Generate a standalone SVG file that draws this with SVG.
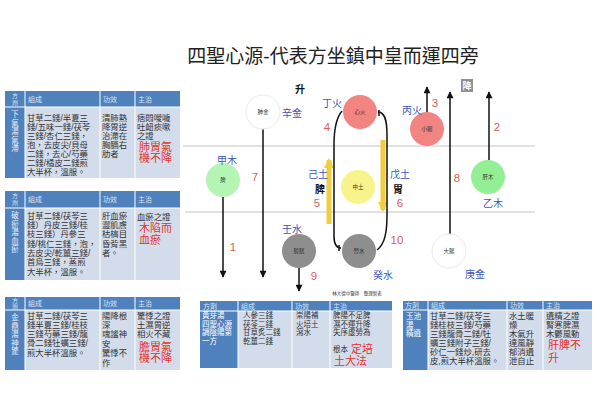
<svg xmlns="http://www.w3.org/2000/svg" width="600" height="400" viewBox="0 0 600 400">
<style>
text{font-family:"Liberation Sans","Noto Sans CJK TC","Noto Sans CJK SC",sans-serif}
.hd{fill:#4f81bd}
.bd{fill:#d3dcea}
.sep{stroke:#fff;stroke-width:1}
.ht{font-size:7px;fill:#d8e3f3}
.hv{font-size:6px;fill:#d8e3f3;text-anchor:middle}
.ct{font-size:8.4px;fill:#333}
.cs{font-size:7.5px;fill:#333}
.wt{font-size:7.5px;fill:#fff}
.wv{font-size:7.5px;fill:#e8eef8;text-anchor:middle}
.r{font-size:11px;fill:#e8322e}
.bl{font-size:10px;fill:#3a56c0;text-anchor:middle}
.num{font-size:11.5px;fill:#e05a5a;text-anchor:middle}
.bk{font-size:10px;font-weight:bold;fill:#111;text-anchor:middle}
.nl{font-size:5.5px;fill:#333;text-anchor:middle}
.ar{stroke:#111;stroke-width:1.5;fill:none}
.ya{stroke:#f3cd3c;stroke-width:5;fill:none}
.gl{stroke:#c4c4c4;stroke-width:1}
</style>
<defs>
<marker id="ah" viewBox="0 0 10 10" refX="9" refY="5" markerWidth="8" markerHeight="7" orient="auto" markerUnits="userSpaceOnUse"><path d="M0,0 L10,5 L0,10 z" fill="#111"/></marker>
<marker id="ya" viewBox="0 0 10 10" refX="8" refY="5" markerWidth="10" markerHeight="11" orient="auto" markerUnits="userSpaceOnUse"><path d="M0,0 L10,5 L0,10 z" fill="#f3cd3c"/></marker>
</defs>
<rect width="600" height="400" fill="#fff"/>
<text x="333" y="63" font-size="19" fill="#222" text-anchor="middle">四聖心源-代表方坐鎮中皇而運四旁</text>
<text x="300" y="93" class="bk" font-size="9">升</text>
<rect x="461" y="79" width="12" height="13" fill="#8f8f8f"/>
<text x="467" y="89" font-size="9" font-weight="bold" fill="#fff" text-anchor="middle">降</text>
<line class="gl" x1="183" y1="146" x2="535" y2="146"/>
<line class="gl" x1="185" y1="212" x2="535" y2="212"/>

<g id="table1">
<rect class="bd" x="5" y="91" width="175" height="87"/>
<rect class="hd" x="5" y="91" width="175" height="16"/>
<rect class="hd" x="5" y="107" width="20" height="71"/>
<line class="sep" x1="25" y1="91" x2="25" y2="178"/><line class="sep" x1="100" y1="91" x2="100" y2="178"/><line class="sep" x1="135" y1="91" x2="135" y2="178"/><line class="sep" x1="5" y1="107" x2="180" y2="107"/>
<text class="hv"><tspan x="15" y="98">方</tspan><tspan x="15" y="105">劑</tspan></text>
<text class="ht" x="28" y="102">組成</text><text class="ht" x="103" y="102">功效</text><text class="ht" x="138" y="102">主治</text>
<text class="wv"><tspan x="15" y="117">下</tspan><tspan x="15" y="125.5">氣</tspan><tspan x="15" y="134">湯</tspan><tspan x="15" y="142.5">氣</tspan><tspan x="15" y="151">滯</tspan></text>
<text class="ct"><tspan x="27" y="121">甘草二錢/半夏三</tspan><tspan x="27" y="130">錢/五味一錢/茯苓</tspan><tspan x="27" y="139">三錢/杏仁三錢，</tspan><tspan x="27" y="148">泡，去皮尖/貝母</tspan><tspan x="27" y="157">二錢，去心/芍藥</tspan><tspan x="27" y="166">二錢/橘皮二錢煎</tspan><tspan x="27" y="175">大半杯，溫服。</tspan></text>
<text class="ct"><tspan x="102" y="121">清肺熱</tspan><tspan x="102" y="130">降胃逆</tspan><tspan x="102" y="139">治滯在</tspan><tspan x="102" y="148">胸膈右</tspan><tspan x="102" y="157">肋者</tspan></text>
<text class="ct"><tspan x="137" y="121">痞悶噯噦</tspan><tspan x="137" y="130">吐衄痰嗽</tspan><tspan x="137" y="139">之證</tspan><tspan class="r" x="139" y="151">肺胃氣</tspan><tspan class="r" x="139" y="162">機不降</tspan></text>
</g>

<g id="table2">
<rect class="bd" x="5" y="191" width="175" height="89"/>
<rect class="hd" x="5" y="191" width="175" height="17"/>
<rect class="hd" x="5" y="208" width="20" height="72"/>
<line class="sep" x1="25" y1="191" x2="25" y2="280"/><line class="sep" x1="100" y1="191" x2="100" y2="280"/><line class="sep" x1="135" y1="191" x2="135" y2="280"/><line class="sep" x1="5" y1="208" x2="180" y2="208"/>
<text class="hv"><tspan x="15" y="198">方</tspan><tspan x="15" y="205">劑</tspan></text>
<text class="ht" x="28" y="202">組成</text><text class="ht" x="103" y="202">功效</text><text class="ht" x="138" y="202">主治</text>
<text class="wv"><tspan x="15" y="218">破</tspan><tspan x="15" y="226.5">瘀</tspan><tspan x="15" y="235">湯</tspan><tspan x="15" y="243.5">血</tspan><tspan x="15" y="252">瘀</tspan></text>
<text class="ct"><tspan x="27" y="219">甘草二錢/茯苓三</tspan><tspan x="27" y="228">錢）丹皮三錢/桂</tspan><tspan x="27" y="237">枝三錢）丹參三</tspan><tspan x="27" y="246.5">錢/桃仁三錢，泡，</tspan><tspan x="27" y="256">去皮尖/乾薑三錢/</tspan><tspan x="27" y="265">首烏三錢，蒸煎</tspan><tspan x="27" y="274.5">大半杯，溫服。</tspan></text>
<text class="ct"><tspan x="102" y="219">肝血瘀</tspan><tspan x="102" y="228">澀肌膚</tspan><tspan x="102" y="237">枯槁目</tspan><tspan x="102" y="246.5">昏背黑</tspan><tspan x="102" y="256">者。</tspan></text>
<text class="ct"><tspan x="137" y="220">血瘀之證</tspan><tspan class="r" x="139" y="232">木陷而</tspan><tspan class="r" x="139" y="244">血瘀</tspan></text>
</g>

<g id="table3">
<rect class="bd" x="5" y="297" width="175" height="73"/>
<rect class="hd" x="5" y="297" width="175" height="13"/>
<rect class="hd" x="5" y="310" width="20" height="60"/>
<line class="sep" x1="25" y1="297" x2="25" y2="370"/><line class="sep" x1="100" y1="297" x2="100" y2="370"/><line class="sep" x1="135" y1="297" x2="135" y2="370"/><line class="sep" x1="5" y1="310" x2="180" y2="310"/>
<text class="hv"><tspan x="15" y="302.5">方</tspan><tspan x="15" y="309">劑</tspan></text>
<text class="ht" x="28" y="306">組成</text><text class="ht" x="103" y="306">功效</text><text class="ht" x="138" y="306">主治</text>
<text class="wv"><tspan x="15" y="320">金</tspan><tspan x="15" y="328.5">鼎</tspan><tspan x="15" y="337">湯</tspan><tspan x="15" y="345.5">神</tspan><tspan x="15" y="354">驚</tspan></text>
<text class="ct"><tspan x="27" y="319">甘草二錢/茯苓三</tspan><tspan x="27" y="328">錢半夏三錢/桂枝</tspan><tspan x="27" y="337">三錢芍藥三錢/龍</tspan><tspan x="27" y="346">骨二錢牡蠣三錢/</tspan><tspan x="27" y="356">煎大半杯溫服。</tspan></text>
<text class="ct"><tspan x="102" y="319">陽降根</tspan><tspan x="102" y="328">深</tspan><tspan x="102" y="337">魂謐神</tspan><tspan x="102" y="347">安</tspan><tspan x="102" y="356">驚悸不</tspan><tspan x="102" y="366">作</tspan></text>
<text class="ct"><tspan x="137" y="319">驚悸之證</tspan><tspan x="137" y="328">土濕胃逆</tspan><tspan x="137" y="337">相火不藏</tspan><tspan class="r" x="139" y="351">膽胃氣</tspan><tspan class="r" x="139" y="362">機不降</tspan></text>
</g>

<g id="table4">
<rect class="bd" x="200" y="301" width="192" height="67"/>
<rect class="hd" x="200" y="301" width="192" height="10"/>
<rect class="hd" x="200" y="311" width="38" height="57"/>
<line class="sep" x1="238" y1="301" x2="238" y2="368"/><line class="sep" x1="292" y1="301" x2="292" y2="368"/><line class="sep" x1="330" y1="301" x2="330" y2="368"/><line class="sep" x1="200" y1="311" x2="392" y2="311"/>
<text class="ht" x="203" y="309">方劑</text><text class="ht" x="241" y="309">組成</text><text class="ht" x="295" y="309">功效</text><text class="ht" x="333" y="309">主治</text>
<text class="wt"><tspan x="202" y="318">黃芽湯</tspan><tspan x="202" y="326.5">四聖心源</tspan><tspan x="202" y="335">調陰陽第</tspan><tspan x="202" y="343.5">一方</tspan></text>
<text class="cs"><tspan x="243" y="318">人參三錢</tspan><tspan x="243" y="326.5">茯苓二錢</tspan><tspan x="243" y="335">甘草炙二錢</tspan><tspan x="243" y="343.5">乾薑二錢</tspan></text>
<text class="cs"><tspan x="296" y="318">崇陽補</tspan><tspan x="296" y="326.5">火培土</tspan><tspan x="296" y="335">瀉水</tspan></text>
<text class="cs"><tspan x="333" y="318">脾陽不足脾</tspan><tspan x="333" y="326.5">濕不運升降</tspan><tspan x="333" y="335">失序虛勞為</tspan><tspan x="333" y="352">根本</tspan><tspan class="r" font-size="11.5" x="351" y="353">定培</tspan><tspan class="r" font-size="11.5" x="334" y="365">土大法</tspan></text>
</g>

<g id="table5">
<rect class="bd" x="403" y="301" width="189" height="69"/>
<rect class="hd" x="403" y="301" width="189" height="9"/>
<rect class="hd" x="403" y="310" width="25" height="60"/>
<line class="sep" x1="428" y1="301" x2="428" y2="370"/><line class="sep" x1="507" y1="301" x2="507" y2="370"/><line class="sep" x1="543" y1="301" x2="543" y2="370"/><line class="sep" x1="403" y1="310" x2="592" y2="310"/>
<text class="ht" x="405" y="308">方劑</text><text class="ht" x="431" y="308">組成</text><text class="ht" x="510" y="308">功效</text><text class="ht" x="546" y="308">主治</text>
<text class="wt"><tspan x="406" y="319">玉池</tspan><tspan x="406" y="327.5">湯</tspan><tspan x="406" y="336">精遺</tspan></text>
<text class="ct"><tspan x="430" y="319">甘草二錢/茯苓三</tspan><tspan x="430" y="327.5">錢桂枝三錢/芍藥</tspan><tspan x="430" y="336.5">三錢龍骨二錢/牡</tspan><tspan x="430" y="345.5">蠣三錢附子三錢/</tspan><tspan x="430" y="354.5">砂仁一錢炒,研去</tspan><tspan x="430" y="364">皮,煎大半杯溫服。</tspan></text>
<text class="ct"><tspan x="509" y="319">水土暖</tspan><tspan x="509" y="327.5">燥</tspan><tspan x="509" y="336.5">木氣升</tspan><tspan x="509" y="345.5">達風靜</tspan><tspan x="509" y="354.5">郁消遺</tspan><tspan x="509" y="364">泄自止</tspan></text>
<text class="ct"><tspan x="546" y="319">遺精之證</tspan><tspan x="546" y="327.5">腎寒脾濕</tspan><tspan x="546" y="336.5">木鬱風動</tspan><tspan class="r" x="548" y="349">肝脾不</tspan><tspan class="r" x="548" y="362">升</tspan></text>
</g>

<g id="connectors">
<line class="ar" x1="223" y1="197" x2="223" y2="277" marker-end="url(#ah)"/>
<line class="ar" x1="263" y1="129" x2="263" y2="277" marker-end="url(#ah)"/>
<line class="ar" x1="299" y1="268" x2="299" y2="291" marker-end="url(#ah)"/>
<line class="ar" x1="427" y1="112" x2="427" y2="87" marker-end="url(#ah)"/>
<line class="ar" x1="450" y1="234" x2="450" y2="92" marker-end="url(#ah)"/>
<line class="ar" x1="489" y1="160" x2="489" y2="92" marker-end="url(#ah)"/>
<line class="ya" x1="329" y1="224" x2="329" y2="160" marker-end="url(#ya)"/>
<line class="ya" x1="383" y1="140" x2="383" y2="210" marker-end="url(#ya)"/>
<path class="ar" d="M342,111 C336,118 334,128 334,145 L334,236 C334,244 336,248 341,248"/>
<line class="ar" x1="339" y1="245" x2="339" y2="251"/>
<path class="ar" d="M377,250 C385,244 387,232 387,215 L387,135 C387,118 384,112 378,112"/>
<line class="ar" x1="379" y1="110" x2="379" y2="116"/>
</g>

<g id="n-feijin"><circle cx="263" cy="112" r="17" fill="#fff" stroke="#e8e8e8"/><text class="nl" x="263" y="114">肺金</text></g>
<g id="n-xinhuo"><circle cx="360" cy="112" r="17" fill="#f28482"/><text class="nl" x="360" y="114">心火</text></g>
<g id="n-xiaochang"><circle cx="427" cy="129" r="17" fill="#f28482"/><text class="nl" x="427" y="131">小腸</text></g>
<g id="n-ganmu"><circle cx="488" cy="177" r="17" fill="#93ef93"/><text class="nl" x="488" y="179">肝木</text></g>
<g id="n-pi"><circle cx="223" cy="180" r="17" fill="#b4f5b4"/><text class="nl" x="223" y="182">脾</text></g>
<g id="n-zhongtu"><circle cx="358" cy="187" r="17" fill="#f8f38a"/><text class="nl" x="358" y="189">中土</text></g>
<g id="n-pangguang"><circle cx="299" cy="251" r="17" fill="#8e8e8e"/><text class="nl" x="299" y="253">膀胱</text></g>
<g id="n-shenshui"><circle cx="359" cy="251" r="17" fill="#8e8e8e"/><text class="nl" x="359" y="253">腎水</text></g>
<g id="n-dachang"><circle cx="449" cy="251" r="17" fill="#fff" stroke="#e8e8e8"/><text class="nl" x="449" y="253">大腸</text></g>

<g id="labels">
<text class="bl" x="292" y="117">辛金</text>
<text class="bl" x="332" y="107">丁火</text>
<text class="bl" x="412" y="114">丙火</text>
<text class="bl" x="227" y="164">甲木</text>
<text class="bl" x="292" y="233">壬水</text>
<text class="bl" x="318" y="178">己土</text>
<text class="bl" x="400" y="178">戊土</text>
<text class="bl" x="493" y="207">乙木</text>
<text class="bl" x="475" y="278">庚金</text>
<text class="bl" x="383" y="279">癸水</text>
<text class="bk" x="320" y="193">脾</text>
<text class="bk" x="398" y="193">胃</text>
<text class="num" x="327" y="131">4</text>
<text class="num" x="435" y="107">3</text>
<text class="num" x="497" y="131">2</text>
<text class="num" x="457" y="182">8</text>
<text class="num" x="255" y="181">7</text>
<text class="num" x="233" y="251">1</text>
<text class="num" x="317" y="207">5</text>
<text class="num" x="400" y="207">6</text>
<text class="num" x="314" y="280">9</text>
<text class="num" x="397" y="244">10</text>
<text x="357" y="295" font-size="4.5" fill="#333" text-anchor="middle">林大德中醫師　整理製表</text>
</g>
</svg>
